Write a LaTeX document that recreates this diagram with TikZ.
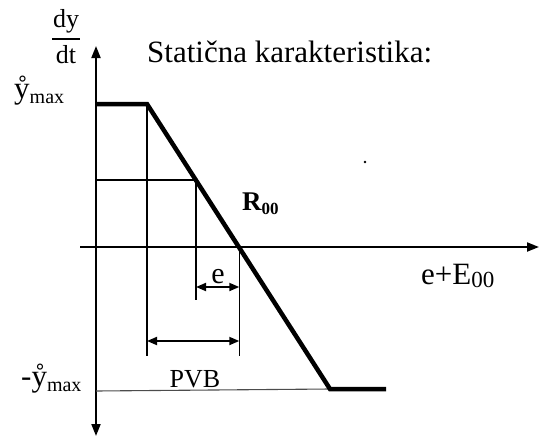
\documentclass[tikz,border=0pt]{standalone}
\usepackage{fontspec}
\setmainfont{Liberation Serif}
\usetikzlibrary{arrows.meta}
\tikzset{
  axis/.style={line width=2pt},
  curve/.style={line width=4.5pt, line join=miter},
  thin/.style={line width=1.3pt},
  faint/.style={line width=1.1pt, black!70},
  dim/.style={line width=1.8pt, {Triangle[length=10pt,width=8pt]}-{Triangle[length=10pt,width=8pt]}},
  lbl/.style={inner sep=0pt, font=\fontsize{31}{31}\selectfont},
  tip/.style={-{Triangle[length=12pt,width=9pt]}}
}
\newcommand{\fs}[1]{\fontsize{#1}{#1}\selectfont}
\begin{document}
\begin{tikzpicture}[x=1pt,y=-1pt]
\useasboundingbox (0,0) rectangle (539,437);
% axes
\coordinate (vb) at (96,436);
\coordinate (vt) at (96,46);
\coordinate (hl) at (80,247);
\coordinate (hr) at (539,247);
\draw[axis,{Triangle[length=12pt,width=9pt]}-{Triangle[length=12pt,width=9pt]}] (vb) -- (vt);
\draw[axis,tip] (hl) -- (hr);
% characteristic
\coordinate (c0) at (96,104);
\coordinate (c1) at (147,104);
\coordinate (c2) at (330,389);
\coordinate (c3) at (386,389);
\coordinate (z) at (239.3,247);
\coordinate (m) at (196,180);
% helper lines
\coordinate (ma) at (96,180);
\coordinate (mb) at (196,300);
\coordinate (pa) at (147,356);
\coordinate (za) at (239.3,356);
\coordinate (ba) at (96,391);
\draw[thin] (ma) -- (m);
\draw[thin] (c1) -- (pa);
\draw[thin] (m) -- (mb);
\draw[thin] (z) -- (za);
\draw[faint] (ba) -- (c2);
\draw[curve] (c0) -- (c1) -- (c2) -- (c3);
% dimension arrows
\coordinate (ea) at (196,287);
\coordinate (eb) at (239.3,287);
\coordinate (pva) at (147,341);
\coordinate (pvb) at (239.3,341);
\draw[dim] (ea) -- (eb);
\draw[dim] (pva) -- (pvb);
% labels
\node[lbl, anchor=base west] (title) at (147,62) {Statična karakteristika:};
\node[lbl, anchor=base] (elbl) at (218,283) {\fs{30}e};
\node[lbl, anchor=base] (pvblbl) at (195,387) {\fs{26}PVB};
\node[lbl, anchor=base west] (R) at (242,210) {\fs{27}\bfseries R\raisebox{-4pt}{\fs{17}00}};
\node[lbl, anchor=base west] (E) at (421,284) {e+E\raisebox{-3pt}{\fs{23}00}};
\node[lbl, anchor=base west] (ymax) at (14,98) {\r{y}\raisebox{-5pt}{\fs{20}max}};
\node[lbl, anchor=base west] (nymax) at (21,386) {-\r{y}\raisebox{-5pt}{\fs{20}max}};
\node[lbl, anchor=base] (dy) at (66,27) {\fs{26}dy};
\node[lbl, anchor=base] (dt) at (66,63) {\fs{26}dt};
\coordinate (fa) at (52,39);
\coordinate (fb) at (80,39);
\draw[line width=1.3pt] (fa) -- (fb);
\fill (365,162) circle (1.3pt);
\end{tikzpicture}
\end{document}
